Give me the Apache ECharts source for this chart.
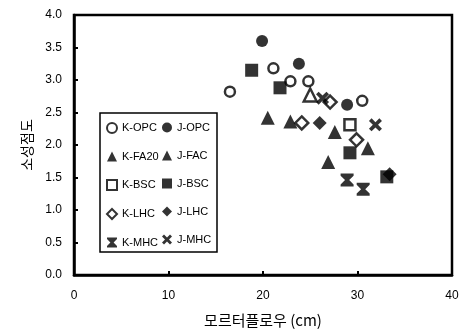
<!DOCTYPE html>
<html>
<head>
<meta charset="utf-8">
<script src="https://cdn.jsdelivr.net/npm/echarts@6/dist/echarts.min.js"></script>
<style>
  html, body { margin: 0; padding: 0; background: #fff; }
  #main { width: 470px; height: 336px; }
</style>
</head>
<body>
<div id="main"></div>
<script>
// 모르터플로우 (cm), 소성점도 — [flow, viscosity]
const kOpc = [[16.5, 2.82], [21.1, 3.18], [22.9, 2.98], [24.8, 2.98], [30.5, 2.68]];
const jOpc = [[19.9, 3.6], [23.8, 3.25], [28.9, 2.62]];
const kFa20 = [[20.5, 2.42], [22.9, 2.36], [27.6, 2.2]];
const kFa20Open = [[25.0, 2.77]];
const jFac = [[31.1, 1.95], [26.9, 1.74]];
const kBsc = [[29.2, 2.31]];
const jBsc = [[18.8, 3.15], [21.8, 2.88], [29.2, 1.88], [33.1, 1.51]];
const kLhc = [[24.1, 2.34], [27.1, 2.66], [29.9, 2.08]];
const jLhc = [[26.0, 2.34], [33.4, 1.55]];
const kMhc = [[28.9, 1.46], [30.6, 1.32]];
const jMhc = [[26.3, 2.72], [31.9, 2.31]];

const kNames = ['K-OPC', 'K-FA20', 'K-BSC', 'K-LHC', 'K-MHC'];
const jNames = ['J-OPC', 'J-FAC', 'J-BSC', 'J-LHC', 'J-MHC'];

const xTicks = [0, 10, 20, 30, 40];
const yTicks = [0, 0.5, 1, 1.5, 2, 2.5, 3, 3.5, 4];

const FONT = '"Liberation Sans", Arial, sans-serif';
const KFONT = '"Noto Sans CJK KR", sans-serif';

// 기호
const crossPath = 'path://M2,0 L5,3 L8,0 L10,2 L7,5 L10,8 L8,10 L5,7 L2,10 L0,8 L3,5 L0,2 Z';
const hourPath = 'path://M0,0 L10,0 L10,1.6 L6.6,5 L10,8.4 L10,10 L0,10 L0,8.4 L3.4,5 L0,1.6 Z';

const openStyle = { color: '#fff', borderColor: '#000', borderWidth: 2.5 };
const fillStyle = { color: '#000', borderColor: '#000', borderWidth: 0 };

function mk(name, data, symbol, size, style) {
  return {
    name: name,
    type: 'scatter',
    data: data,
    symbol: symbol,
    symbolSize: size,
    itemStyle: style,
    emphasis: { disabled: true },
    z: 3,
  };
}

const myChart = echarts.init(document.getElementById('main'), null, { renderer: 'canvas' });

const legendBase = {
  orient: 'vertical',
  top: 117,
  itemWidth: 10,
  itemHeight: 10,
  itemGap: 17,
  textStyle: { color: '#000', fontSize: 11, fontFamily: FONT },
  selectedMode: false,
};

const option = {
  animation: false,
  backgroundColor: '#fff',
  grid: {
    left: 74, right: 18, top: 15, bottom: 61,
    show: true, borderColor: '#000', borderWidth: 2.5,
  },
  legend: [
    Object.assign({ left: 101, data: kNames }, legendBase),
    Object.assign({ left: 157, data: jNames }, legendBase),
  ],
  graphic: [{
    type: 'rect',
    shape: { x: 100, y: 113, width: 117, height: 139 },
    style: { fill: 'none', stroke: '#000', lineWidth: 1.5 },
    z: 1,
  }],
  xAxis: {
    type: 'value',
    min: xTicks[0], max: xTicks[xTicks.length - 1], interval: 10,
    name: '모르터플로우 (cm)',
    nameLocation: 'middle',
    nameGap: 38,
    nameTextStyle: { color: '#000', fontSize: 15, fontFamily: KFONT },
    axisLine: { lineStyle: { color: '#000', width: 2.5 } },
    axisTick: { inside: true, length: 4, lineStyle: { color: '#000', width: 2 } },
    axisLabel: { color: '#000', fontSize: 12, fontFamily: FONT, margin: 15 },
    splitLine: { show: false },
  },
  yAxis: {
    type: 'value',
    min: yTicks[0], max: yTicks[yTicks.length - 1], interval: 0.5,
    name: '소성점도',
    nameLocation: 'middle',
    nameGap: 40,
    nameTextStyle: { color: '#000', fontSize: 14, fontFamily: KFONT },
    axisLine: { lineStyle: { color: '#000', width: 2.5 } },
    axisTick: { inside: true, length: 4, lineStyle: { color: '#000', width: 2 } },
    axisLabel: {
      color: '#000', fontSize: 12, fontFamily: FONT, margin: 12,
      formatter: (v) => v.toFixed(1),
    },
    splitLine: { show: false },
  },
  series: [
    mk('K-OPC', kOpc, 'circle', 10, openStyle),
    mk('J-OPC', jOpc, 'circle', 12, fillStyle),
    mk('K-FA20', kFa20, 'triangle', 14, fillStyle),
    mk('K-FA20', kFa20Open, 'triangle', 13, openStyle),
    mk('J-FAC', jFac, 'triangle', 14, fillStyle),
    mk('K-BSC', kBsc, 'rect', 11, openStyle),
    mk('J-BSC', jBsc, 'rect', 13, fillStyle),
    mk('K-LHC', kLhc, 'diamond', 13, openStyle),
    mk('J-LHC', jLhc, 'diamond', 14, fillStyle),
    mk('K-MHC', kMhc, hourPath, 13, fillStyle),
    mk('J-MHC', jMhc, crossPath, 13, fillStyle),
  ],
};

myChart.setOption(option);
</script>
</body>
</html>
